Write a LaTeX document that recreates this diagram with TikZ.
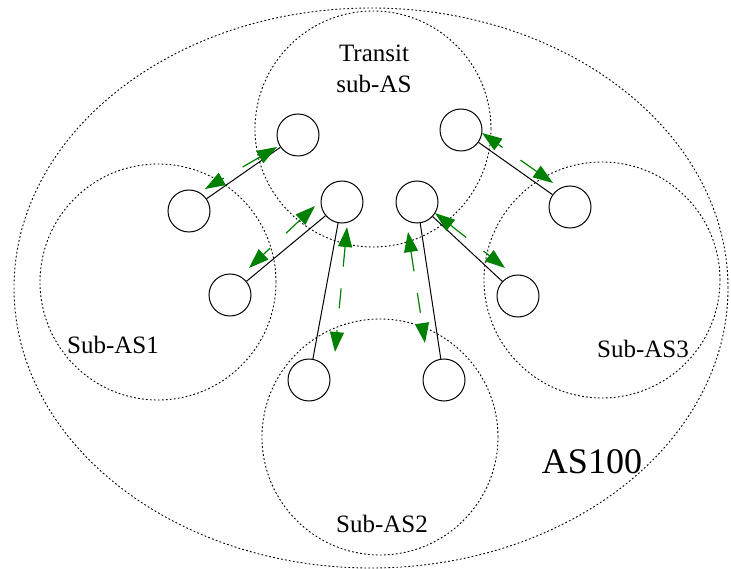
\documentclass[tikz,border=0pt]{standalone}
\usepackage{fontspec}
\setmainfont{Liberation Serif}
\usetikzlibrary{arrows.meta}

\tikzset{
  border/.style={dash pattern=on 1.8pt off 2.2pt, line width=.9pt},
  region/.style={border, draw, circle, minimum size=236pt, inner sep=0pt},
  router/.style={draw, circle, line width=1pt, minimum size=42pt, inner sep=0pt},
  link/.style={line width=1pt},
  session/.style={green!50!black, line width=1.2pt, dash pattern=on 20pt off 22pt,
    {Triangle[length=20pt,width=14pt]}-{Triangle[length=20pt,width=14pt]}},
  aslabel/.style={font=\fontsize{25}{31}\selectfont, inner sep=0pt, anchor=base}
}

\begin{document}
\begin{tikzpicture}
        [x=1pt,y=-1pt]
        \useasboundingbox (0,0) rectangle (731,569);

        % areas
        \draw[border] (371,288) ellipse [x radius=357pt, y radius=280pt];
        \node[region] (transit) at (373,129) {};
        \node[region] (sub1) at (158,282) {};
        \node[region] (sub2) at (380,437) {};
        \node[region] (sub3) at (602,280) {};

        \node[aslabel, align=center, anchor=north] (transitlbl) at (374,45) {Transit\\sub-AS};
        \node[aslabel] (sub1lbl) at (113,353) {Sub-AS1};
        \node[aslabel] (sub2lbl) at (382,532) {Sub-AS2};
        \node[aslabel] (sub3lbl) at (643,358) {Sub-AS3};
        \node[aslabel, font=\fontsize{36}{43}\selectfont] (as100lbl) at (592,473) {AS100};

        % routers
        \node[router] (t1) at (298,135) {};
        \node[router] (t2) at (461,130) {};
        \node[router] (t3) at (342,202) {};
        \node[router] (t4) at (417,202) {};
        \node[router] (a1) at (189,211) {};
        \node[router] (a2) at (230,295) {};
        \node[router] (b1) at (309,380) {};
        \node[router] (b2) at (444,380) {};
        \node[router] (c1) at (570,207) {};
        \node[router] (c2) at (518,296) {};

        \draw[link] (a1) -- (t1);
        \draw[link] (a2) -- (t3);
        \draw[link] (t3) -- (b1);
        \draw[link] (t4) -- (b2);
        \draw[link] (t4) -- (c2);
        \draw[link] (t2) -- (c1);

        % sessions
        \coordinate (g1s) at (277,147);
        \coordinate (g1e) at (205,189);
        \coordinate (g2s) at (315,206);
        \coordinate (g2e) at (249,268);
        \coordinate (g3s) at (347,227);
        \coordinate (g3e) at (335,352);
        \coordinate (g4s) at (408,232);
        \coordinate (g4e) at (425,343);
        \coordinate (g5s) at (435,213);
        \coordinate (g5e) at (505,268);
        \coordinate (g6s) at (553,183);
        \coordinate (g6e) at (482,133);

        \draw[session] (g1s) -- (g1e);
        \draw[session] (g2s) -- (g2e);
        \draw[session] (g3s) -- (g3e);
        \draw[session] (g4s) -- (g4e);
        \draw[session] (g5s) -- (g5e);
        \draw[session] (g6s) -- (g6e);
\end{tikzpicture}
\end{document}
